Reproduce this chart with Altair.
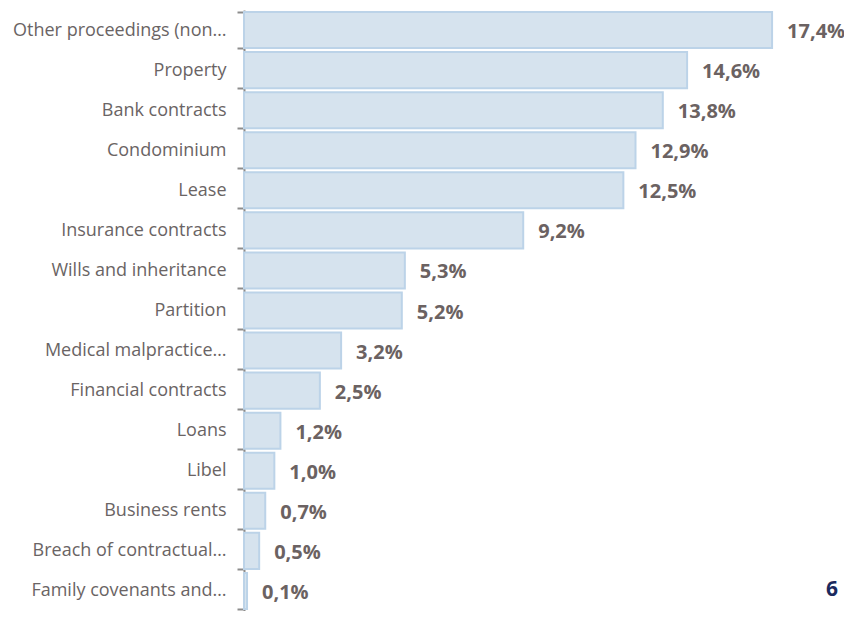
import altair as alt
import pandas as pd

categories = [
    "Other proceedings (non…", "Property ", "Bank contracts", "Condominium", "Lease",
    "Insurance contracts", "Wills  and inheritance", "Partition", "Medical malpractice…",
    "Financial contracts", "Loans", "Libel", "Business rents",
    "Breach of contractual…", "Family covenants and…",
]
values = [17.4, 14.6, 13.8, 12.9, 12.5, 9.2, 5.3, 5.2, 3.2, 2.5, 1.2, 1.0, 0.7, 0.5, 0.1]
page_number = "6"

df = pd.DataFrame({"category": categories, "value": values})
df["label"] = [f"{v:.1f}".replace(".", ",") + "%" for v in values]

FONT = "Open Sans"
W, H = 600, 601

y_enc = alt.Y(
    "category:N", sort=None, title=None,
    scale=alt.Scale(paddingInner=0.1, paddingOuter=0.05),
    axis=alt.Axis(
        domainColor="#8c8c8c", domainWidth=2, tickColor="#8c8c8c", tickWidth=2,
        tickSize=7, tickBand="extent", labelFont=FONT, labelFontSize=18,
        labelColor="#6a6464", labelPadding=11, labelLimit=300, grid=False,
    ),
)
x_enc = alt.X("value:Q", title=None, axis=None, scale=alt.Scale(domain=[0, 19.77], nice=False))

bars = alt.Chart(df).mark_bar(
    fill="#d6e3ee", stroke="#bcd3e8", strokeWidth=2
).encode(x=x_enc, y=y_enc)

texts = alt.Chart(df).mark_text(
    align="left", baseline="middle", dx=15, dy=2, font=FONT, fontSize=20,
    fontWeight="bold", color="#6b6262",
).encode(x=x_enc, y=y_enc, text="label:N")

page = alt.Chart(pd.DataFrame({"t": [page_number]})).mark_text(
    align="center", baseline="middle", font=FONT, fontSize=21, fontWeight="bold",
    color="#1b2a5e",
).encode(x=alt.value(588), y=alt.value(580), text="t:N")

chart = alt.layer(bars, texts, page).properties(
    width=W, height=H,
    autosize=alt.AutoSizeParams(type="none"),
    padding={"left": 236, "top": 2, "right": 0, "bottom": 0},
).configure_view(stroke=None)

chart.save("out.html", embed_options={"renderer": "svg", "actions": False})
